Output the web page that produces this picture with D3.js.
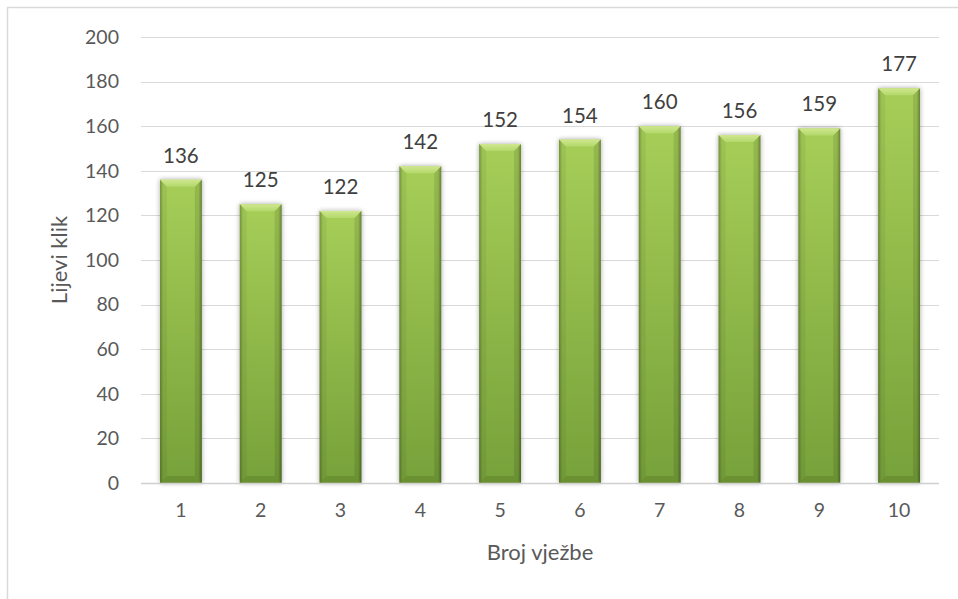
<!DOCTYPE html>
<html><head><meta charset="utf-8">
<script src="https://cdn.jsdelivr.net/npm/d3@7"></script>
<style>body{margin:0;background:#fff}svg{display:block}</style>
</head><body>
<svg id="c" width="958" height="599"></svg>
<script>
const categories = ["1","2","3","4","5","6","7","8","9","10"];
const values = [136,125,122,142,152,154,160,156,159,177];
const yTicks = [0,20,40,60,80,100,120,140,160,180,200];
const yTitle = "Lijevi klik";
const xTitle = "Broj vježbe";

(function(){
const svg = d3.select("#c");
const font = "Lato, 'Open Sans', sans-serif";
const pLeft = 141, pRight = 939, pTop = 37, pBottom = 483;

// outer frame
svg.append("path").attr("d","M7.5,599 L7.5,7.5 L958,7.5").attr("fill","none").attr("stroke","#d9d9d9").attr("stroke-width",1.5);

const x = d3.scaleBand().domain(categories).range([pLeft,pRight]).paddingInner(0.475).paddingOuter(0.2375);
const y = d3.scaleLinear().domain([0,200]).range([pBottom,pTop]);

const defs = svg.append("defs");
const g1 = defs.append("linearGradient").attr("id","body").attr("x1",0).attr("y1",0).attr("x2",0).attr("y2",1);
g1.append("stop").attr("offset","0%").attr("stop-color","#a6ce58");
g1.append("stop").attr("offset","100%").attr("stop-color","#77a13a");
const g2 = defs.append("linearGradient").attr("id","side").attr("x1",0).attr("y1",0).attr("x2",1).attr("y2",0);
g2.append("stop").attr("offset","0%").attr("stop-color","#000").attr("stop-opacity",0.25);
g2.append("stop").attr("offset","8%").attr("stop-color","#000").attr("stop-opacity",0);
g2.append("stop").attr("offset","92%").attr("stop-color","#000").attr("stop-opacity",0);
g2.append("stop").attr("offset","100%").attr("stop-color","#000").attr("stop-opacity",0.3);
const g3 = defs.append("linearGradient").attr("id","bevtop").attr("x1",0).attr("y1",0).attr("x2",0).attr("y2",1);
g3.append("stop").attr("offset","0%").attr("stop-color","#cfe78f");
g3.append("stop").attr("offset","100%").attr("stop-color","#b3d86a");
const f = defs.append("filter").attr("id","sh").attr("x","-30%").attr("y","-10%").attr("width","160%").attr("height","120%");
f.append("feGaussianBlur").attr("in","SourceAlpha").attr("stdDeviation",2.5).attr("result","b");
f.append("feOffset").attr("in","b").attr("dx",0).attr("dy",0).attr("result","o");
f.append("feComponentTransfer").attr("in","o").attr("result","o2").append("feFuncA").attr("type","linear").attr("slope",0.35);
const fm = f.append("feMerge"); fm.append("feMergeNode").attr("in","o2"); fm.append("feMergeNode").attr("in","SourceGraphic");

// gridlines
svg.append("g").selectAll("line").data(yTicks.filter(d=>d>0)).join("line")
  .attr("x1",pLeft).attr("x2",pRight).attr("y1",d=>Math.round(y(d))+0.5).attr("y2",d=>Math.round(y(d))+0.5)
  .attr("stroke","#d9d9d9").attr("stroke-width",1);

// y axis labels
const ya = svg.append("g").attr("transform",`translate(${pLeft-22},0)`)
  .call(d3.axisLeft(y).tickValues(yTicks).tickSize(0).tickPadding(0));
ya.select(".domain").remove();
ya.selectAll("text").attr("font-family",font).attr("font-size",19.5).attr("fill","#595959").attr("text-anchor","end");

// bars
const bars = svg.append("g").selectAll("g").data(values).join("g")
  .attr("filter","url(#sh)");
const bw = x.bandwidth();
bars.each(function(v,i){
  const g = d3.select(this);
  const x0 = x(categories[i]), y0 = y(v), h = pBottom - y0, bev = 7;
  g.append("rect").attr("x",x0).attr("y",y0).attr("width",bw).attr("height",h).attr("fill","url(#body)");
  g.append("rect").attr("x",x0).attr("y",y0).attr("width",bw).attr("height",h).attr("fill","url(#side)");
  g.append("polygon").attr("points",`${x0},${y0} ${x0+bw},${y0} ${x0+bw-bev},${y0+bev} ${x0+bev},${y0+bev}`)
    .attr("fill","url(#bevtop)");
  g.append("polygon").attr("points",`${x0},${y0} ${x0+bev},${y0+bev} ${x0+bev},${pBottom-bev} ${x0},${pBottom}`)
    .attr("fill","#000").attr("opacity",0.05);
  g.append("polygon").attr("points",`${x0+bw},${y0} ${x0+bw-bev},${y0+bev} ${x0+bw-bev},${pBottom-bev} ${x0+bw},${pBottom}`)
    .attr("fill","#000").attr("opacity",0.1);
  g.append("polygon").attr("points",`${x0},${pBottom} ${x0+bev},${pBottom-bev} ${x0+bw-bev},${pBottom-bev} ${x0+bw},${pBottom}`)
    .attr("fill","#5a7d28").attr("opacity",0.45);
});

// baseline
svg.append("line").attr("x1",pLeft).attr("x2",pRight).attr("y1",pBottom+0.5).attr("y2",pBottom+0.5)
  .attr("stroke","#d0d0d0").attr("stroke-width",1.5);

// data labels
svg.append("g").selectAll("text").data(values).join("text")
  .attr("x",(d,i)=>x(categories[i])+bw/2).attr("y",d=>y(d)-17)
  .attr("text-anchor","middle").attr("font-family",font).attr("font-size",20.5).attr("fill","#404040")
  .text(d=>d);

// x axis
const xa = svg.append("g").attr("transform",`translate(0,${pBottom})`)
  .call(d3.axisBottom(x).tickSize(0).tickPadding(20));
xa.select(".domain").remove();
xa.selectAll("text").attr("font-family",font).attr("font-size",19.5).attr("fill","#595959");

// titles
svg.append("text").attr("x",(pLeft+pRight)/2).attr("y",560).attr("text-anchor","middle")
  .attr("font-family",font).attr("font-size",22).attr("fill","#595959").text(xTitle);
svg.append("text").attr("transform",`translate(67,${(pTop+pBottom)/2}) rotate(-90)`).attr("text-anchor","middle")
  .attr("font-family",font).attr("font-size",22).attr("fill","#595959").text(yTitle);
})();
</script>
</body></html>
